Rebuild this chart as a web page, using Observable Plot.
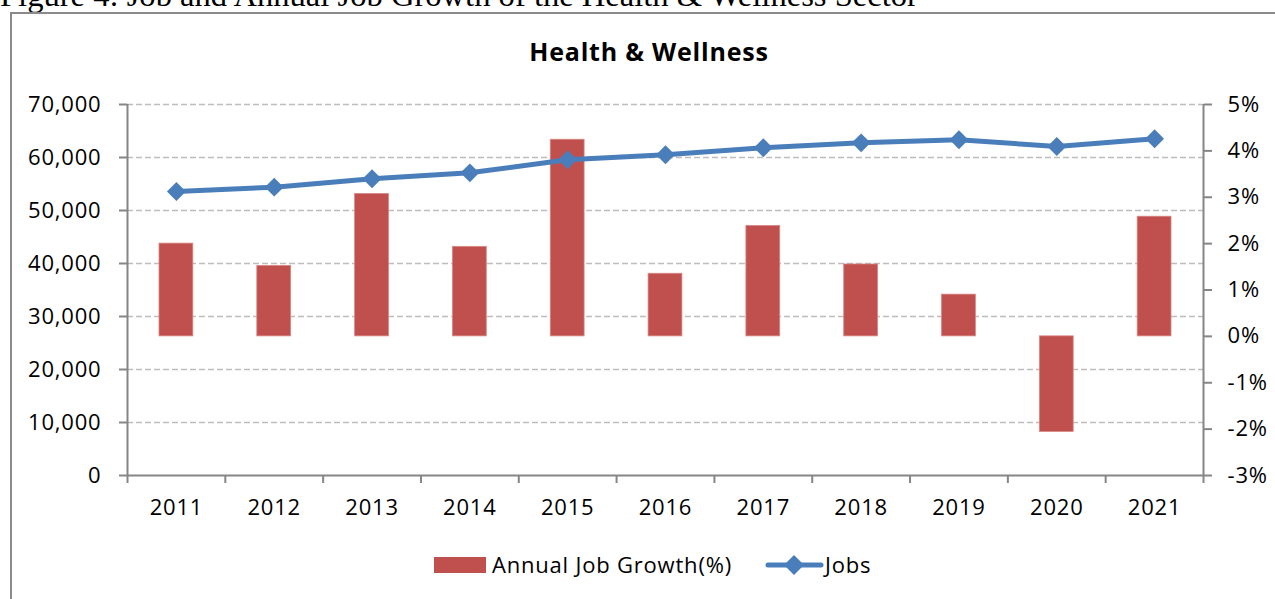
<!DOCTYPE html>
<html>
<head>
<meta charset="utf-8">
<script src="https://cdn.jsdelivr.net/npm/d3@7"></script>
<script src="https://cdn.jsdelivr.net/npm/@observablehq/plot@0.6"></script>
<style>
  html, body { margin: 0; padding: 0; background: #fff; overflow: hidden; width: 1275px; height: 599px; }
  body { position: relative; font-family: "Open Sans", sans-serif; }
  #caption { position: absolute; left: 0; top: -21px; font-family: "Liberation Serif", "Times New Roman", serif; font-size: 32.6px; line-height: 33px; white-space: nowrap; color: #000; }
  #frame { position: absolute; left: 10px; top: 12px; width: 1320px; height: 650px; border: 2px solid #8a8a8a; }
  #title { position: absolute; left: 0; width: 1298px; top: 35px; text-align: center; font-size: 25px; letter-spacing: 0.8px; font-weight: bold; line-height: 32px; color: #000; }
  #chart { position: absolute; left: 0; top: 80px; }
  .leg { position: absolute; font-size: 22px; letter-spacing: 0.8px; color: #000; white-space: nowrap; line-height: 30px; top: 549px; }
  #sw { position: absolute; left: 434px; top: 557px; width: 52px; height: 16px; background: #c0504d; }
  #legline { position: absolute; left: 764px; top: 553px; }
</style>
</head>
<body>
<div id="caption">Figure 4: Job and Annual Job Growth of the Health &amp; Wellness Sector</div>
<div id="frame"></div>
<div id="title">Health &amp; Wellness</div>
<div id="chart"></div>
<div id="sw"></div>
<div class="leg" id="leg1" style="left:492px"></div>
<div id="legline"></div>
<div class="leg" id="leg2" style="left:825px"></div>
<script>
// ---- data ----
const years = [2011, 2012, 2013, 2014, 2015, 2016, 2017, 2018, 2019, 2020, 2021];
const jobs = [53580, 54400, 55980, 57110, 59570, 60510, 61830, 62770, 63340, 62080, 63530];
const growth = [2.00, 1.52, 3.07, 1.93, 4.24, 1.35, 2.38, 1.55, 0.90, -2.06, 2.58]; // percent
const jobTicks = [0, 10000, 20000, 30000, 40000, 50000, 60000, 70000];
const pctTicks = [-3, -2, -1, 0, 1, 2, 3, 4, 5];
const seriesNames = ["Annual Job Growth(%)", "Jobs"];

// ---- secondary axis mapping (percent -> left axis units) ----
const pctMin = pctTicks[0], pctMax = pctTicks[pctTicks.length - 1];
const yMax = jobTicks[jobTicks.length - 1];
const pctToY = p => (p - pctMin) / (pctMax - pctMin) * yMax;
const yToPct = v => Math.round(v / yMax * (pctMax - pctMin) + pctMin);

const data = years.map((year, i) => ({year, jobs: jobs[i], growth: growth[i]}));
const boundaries = years.map(y => y - 0.5).concat([years[years.length - 1] + 0.5]);

const blue = "#4a7ebb", red = "#c0504d", axisGray = "#868686", gridGray = "#bdbdbd";

const chart = Plot.plot({
  width: 1275,
  height: 440,
  marginTop: 24,
  marginBottom: 45,
  marginLeft: 127,
  marginRight: 72,
  style: {fontFamily: "'Open Sans', sans-serif", fontSize: "22px", letterSpacing: "0.8px", color: "#000", background: "transparent", overflow: "visible"},
  x: {type: "linear", domain: [boundaries[0], boundaries[boundaries.length - 1]]},
  y: {domain: [0, yMax]},
  marks: [
    Plot.ruleY(jobTicks.filter(d => d > 0), {stroke: gridGray, strokeWidth: 1.5, strokeDasharray: "6,3"}),
    Plot.rectY(data, {
      x1: d => d.year - 0.5, x2: d => d.year + 0.5,
      y1: () => pctToY(0), y2: d => pctToY(d.growth),
      insetLeft: 32, insetRight: 32,
      fill: red, stroke: "#d98583", strokeWidth: 0.8
    }),
    Plot.ruleY([0], {stroke: axisGray, strokeWidth: 2}),
    Plot.ruleX([boundaries[0], boundaries[boundaries.length - 1]], {y1: 0, y2: yMax, stroke: axisGray, strokeWidth: 2}),
    Plot.axisY(jobTicks, {anchor: "left", tickFormat: d3.format(","), tickSize: 8, tickPadding: 18, stroke: axisGray, strokeWidth: 2, fill: "#000", label: null}),
    Plot.axisY(pctTicks.map(pctToY), {anchor: "right", tickFormat: v => yToPct(v) + "%", tickSize: 8, tickPadding: 16, stroke: axisGray, strokeWidth: 2, fill: "#000", label: null}),
    Plot.axisX(boundaries, {anchor: "bottom", tickFormat: () => "", tickSize: 8, stroke: axisGray, strokeWidth: 2, label: null}),
    Plot.axisX(years, {anchor: "bottom", tickFormat: d => String(d), tickSize: 0, tickPadding: 24, fill: "#000", label: null}),
    Plot.line(data, {x: "year", y: "jobs", stroke: blue, strokeWidth: 5}),
    Plot.dot(data, {x: "year", y: "jobs", symbol: "diamond2", r: 8.5, fill: blue, stroke: "none"})
  ]
});
document.getElementById("chart").appendChild(chart);

// ---- legend ----
document.getElementById("leg1").textContent = seriesNames[0];
document.getElementById("leg2").textContent = seriesNames[1];
document.getElementById("legline").innerHTML =
  `<svg width="60" height="24" viewBox="0 0 60 24">` +
  `<line x1="4" y1="12" x2="57" y2="12" stroke="${blue}" stroke-width="5" stroke-linecap="round"/>` +
  `<path d="M30,2 L40,12 L30,22 L20,12 Z" fill="${blue}"/></svg>`;
</script>
</body>
</html>
